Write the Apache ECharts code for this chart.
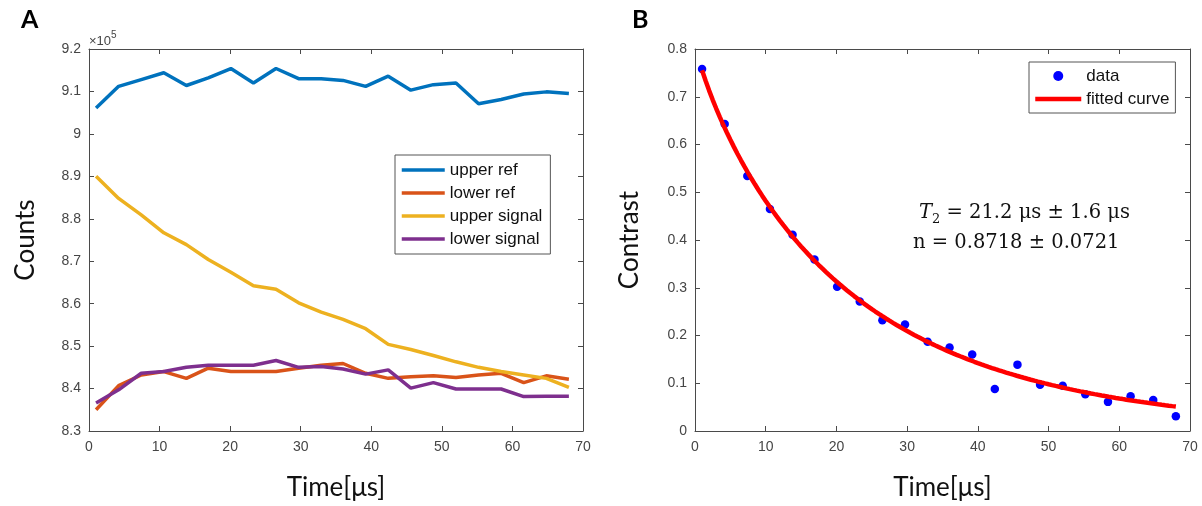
<!DOCTYPE html>
<html>
<head>
<meta charset="utf-8">
<script src="https://cdn.jsdelivr.net/npm/echarts@6/dist/echarts.min.js"></script>
<style>
  html, body { margin: 0; padding: 0; background: #fff; }
  #chart { width: 1202px; height: 506px; }
</style>
</head>
<body>
<div id="chart"></div>
<script>
// Pulse delay times (µs), shared by both panels
const times = [1.0, 4.2, 7.4, 10.6, 13.8, 16.9, 20.1, 23.3, 26.5, 29.7, 32.9,
               36.0, 39.2, 42.4, 45.6, 48.8, 52.0, 55.2, 58.4, 61.6, 64.8, 68.0];

// Panel A: photon counts
const upperRef    = [906100, 911200, 912800, 914400, 911400, 913200, 915400, 912000, 915400, 913000, 913000,
                     912600, 911200, 913600, 910300, 911600, 912000, 907100, 908100, 909400, 909900, 909500];
const lowerRef    = [835000, 840700, 843200, 844000, 842400, 844800, 844000, 844000, 844000, 844800, 845500,
                     845900, 843600, 842400, 842800, 843000, 842600, 843200, 843600, 841400, 843000, 842200];
const upperSignal = [890000, 884800, 880900, 876700, 873900, 870400, 867400, 864200, 863400, 860200, 858000,
                     856300, 854100, 850400, 849200, 847800, 846300, 845000, 844000, 843200, 842400, 840300];
const lowerSignal = [836600, 839700, 843600, 844000, 845000, 845500, 845500, 845500, 846600, 845000, 845200,
                     844600, 843400, 844400, 840100, 841400, 839900, 839900, 839900, 838100, 838200, 838200];

// Panel B: contrast
const contrast = [0.758, 0.643, 0.534, 0.465, 0.411, 0.359, 0.302, 0.271, 0.232, 0.223, 0.187,
                  0.175, 0.160, 0.088, 0.139, 0.097, 0.095, 0.077, 0.061, 0.073, 0.065, 0.031];

// Stretched-exponential fit C(t) = A·exp(-(t/T2)^n), parameters as annotated
const fitT2 = 21.2;
const fitN = 0.8718;
const fitAmp = 0.81;

const seriesNamesA = ['upper ref', 'lower ref', 'upper signal', 'lower signal'];
const seriesNamesB = ['data', 'fitted curve'];
const colorsA = ['#0072BD', '#D95319', '#EDB120', '#7E2F8E'];

const pair = (xs, ys) => xs.map((x, i) => [x, ys[i]]);

const fitCurve = [];
for (let t = 1; t <= 68.0001; t += 0.5) {
  fitCurve.push([t, fitAmp * Math.exp(-Math.pow(t / fitT2, fitN))]);
}

const axisColor = '#4a4a4a';
const labelColor = '#454545';
const tickFont = { fontFamily: 'Liberation Sans', fontSize: 14, color: labelColor };
const titleFont = { fontFamily: 'Lato', fontSize: 26, color: '#111' };

function xAxes(grid) {
  const base = {
    type: 'value', gridIndex: grid, min: 0, max: 70, interval: 10,
    splitLine: { show: false },
    axisLine: { show: true, onZero: false, lineStyle: { color: axisColor, width: 1 } },
    axisTick: { show: true, inside: true, length: 5, lineStyle: { color: axisColor } }
  };
  return [
    Object.assign({}, base, {
      position: 'bottom',
      axisLabel: Object.assign({ margin: 9 }, tickFont),
      name: 'Time[μs]', nameLocation: 'middle', nameGap: 44,
      nameTextStyle: titleFont
    }),
    Object.assign({}, base, { position: 'top', axisLabel: { show: false } })
  ];
}

function yAxes(grid, min, max, interval, fmt, title, gap) {
  const base = {
    type: 'value', gridIndex: grid, min: min, max: max, interval: interval,
    splitLine: { show: false },
    axisLine: { show: true, onZero: false, lineStyle: { color: axisColor, width: 1 } },
    axisTick: { show: true, inside: true, length: 5, lineStyle: { color: axisColor } }
  };
  return [
    Object.assign({}, base, {
      position: 'left',
      axisLabel: Object.assign({ margin: 8, formatter: fmt }, tickFont),
      name: title, nameLocation: 'middle', nameGap: gap, nameRotate: 90,
      nameTextStyle: titleFont
    }),
    Object.assign({}, base, { position: 'right', axisLabel: { show: false } })
  ];
}

const countsFmt = v => String(parseFloat((v / 1e5).toFixed(1)));
const contrastFmt = v => (v === 0 ? '0' : v.toFixed(1));

const legendText = { fontFamily: 'Liberation Sans', fontSize: 17, lineHeight: 20, color: '#111' };

const chart = echarts.init(document.getElementById('chart'), null, { renderer: 'canvas' });

chart.setOption({
  backgroundColor: '#fff',
  animation: false,
  grid: [
    { left: 89, top: 49, width: 494, height: 384 },
    { left: 695, top: 49, width: 495, height: 384 }
  ],
  xAxis: xAxes(0).concat(xAxes(1)),
  yAxis: yAxes(0, 830000, 920000, 10000, countsFmt, 'Counts', 50)
    .concat(yAxes(1, 0, 0.8, 0.1, contrastFmt, 'Contrast', 52)),
  legend: [
    {
      // plain line keys, no marker
      data: seriesNamesA.map(n => ({ name: n, itemStyle: { opacity: 0 } })),
      orient: 'vertical', left: 395, top: 155,
      itemWidth: 43, itemHeight: 10, itemGap: 3,
      padding: [5, 8, 5, 5],
      borderColor: '#555', borderWidth: 1, borderRadius: 0, backgroundColor: '#fff',
      lineStyle: { width: 3.5 },
      textStyle: legendText,
      selectedMode: false
    },
    {
      data: [
        { name: seriesNamesB[0], itemStyle: { opacity: 1 } },
        { name: seriesNamesB[1], itemStyle: { opacity: 0 } }
      ],
      orient: 'vertical', left: 1029, top: 62,
      itemWidth: 46, itemHeight: 10, itemGap: 3,
      padding: [4, 6, 4, 4],
      borderColor: '#555', borderWidth: 1, borderRadius: 0, backgroundColor: '#fff',
      lineStyle: { width: 4.5 },
      textStyle: legendText,
      selectedMode: false
    }
  ],
  series: [
    [upperRef, 0], [lowerRef, 1], [upperSignal, 2], [lowerSignal, 3]
  ].map(([vals, i]) => ({
    name: seriesNamesA[i], type: 'line', xAxisIndex: 0, yAxisIndex: 0,
    data: pair(times, vals), symbol: 'none', color: colorsA[i],
    lineStyle: { width: 3.5, color: colorsA[i] }
  })).concat([
    {
      name: seriesNamesB[0], type: 'scatter', xAxisIndex: 2, yAxisIndex: 2,
      data: pair(times, contrast), symbol: 'circle', symbolSize: 8.5,
      itemStyle: { color: '#0000FF', opacity: 1 }
    },
    {
      name: seriesNamesB[1], type: 'line', xAxisIndex: 2, yAxisIndex: 2,
      data: fitCurve, symbol: 'none', color: '#FF0000',
      lineStyle: { width: 4.5, color: '#FF0000' }
    }
  ]),
  graphic: [
    { type: 'text', left: 21, top: 7,
      style: { text: 'A', fontFamily: 'Lato', fontWeight: 'bold', fontSize: 25, fill: '#000' } },
    { type: 'text', left: 632, top: 7,
      style: { text: 'B', fontFamily: 'Lato', fontWeight: 'bold', fontSize: 25, fill: '#000' } },
    { type: 'text', left: 89, top: 30,
      style: {
        text: '{m|×10}{p|5}',
        rich: {
          m: { fontFamily: 'Liberation Sans', fontSize: 13, fill: labelColor, lineHeight: 18, verticalAlign: 'bottom' },
          p: { fontFamily: 'Liberation Sans', fontSize: 10, fill: labelColor, lineHeight: 18, verticalAlign: 'top' }
        }
      } },
    { type: 'text', left: 919, top: 203,
      style: {
        text: '{t|T}{s|2}{r| = 21.2 μs ± 1.6 μs}',
        rich: {
          t: { fontFamily: 'DejaVu Serif', fontStyle: 'italic', fontSize: 19.5, fill: '#111', lineHeight: 26, verticalAlign: 'middle' },
          s: { fontFamily: 'DejaVu Serif', fontSize: 13, fill: '#111', lineHeight: 14, verticalAlign: 'bottom' },
          r: { fontFamily: 'DejaVu Serif', fontSize: 19.5, fill: '#111', lineHeight: 26, verticalAlign: 'middle' }
        }
      } },
    { type: 'text', left: 913, top: 233,
      style: { text: 'n = 0.8718 ± 0.0721', fontFamily: 'DejaVu Serif', fontSize: 19.5, fill: '#111' } }
  ]
});
</script>
</body>
</html>
